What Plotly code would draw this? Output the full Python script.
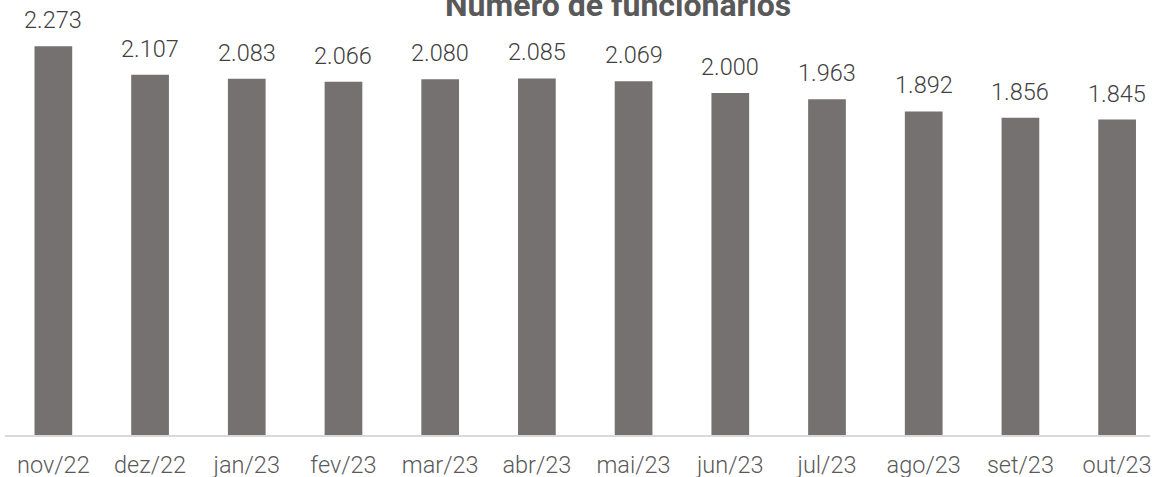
import plotly.graph_objects as go

categories = ["nov/22", "dez/22", "jan/23", "fev/23", "mar/23", "abr/23",
              "mai/23", "jun/23", "jul/23", "ago/23", "set/23", "out/23"]
values = [2273, 2107, 2083, 2066, 2080, 2085, 2069, 2000, 1963, 1892, 1856, 1845]
title_text = "Número de funcionários"

labels = [f"{v:,}".replace(",", ".") for v in values]

fig = go.Figure()
fig.add_trace(go.Bar(
    x=categories, y=values,
    marker=dict(color="#767171", line=dict(width=0)),
    width=0.39,
    hoverinfo="skip",
))
for c, v, t in zip(categories, values, labels):
    fig.add_annotation(x=c, y=v, text=t, showarrow=False, yanchor="bottom",
                       yshift=10, font=dict(family="Roboto", size=23.5, color="#404040", weight=300))

fig.add_annotation(xref="paper", yref="paper", x=(618 - 5) / 1145, y=1.0, yanchor="middle",
                   yshift=-5, text="<b>" + title_text + "</b>",
                   showarrow=False, font=dict(family="Roboto", size=32, color="#595959"))

fig.update_layout(
    width=1155, height=477,
    margin=dict(l=5, r=5, t=0, b=42, autoexpand=False),
    plot_bgcolor="white", paper_bgcolor="white",
    showlegend=False,
    xaxis=dict(range=[-0.5, 11.34], showline=True, linecolor="#d9d9d9", linewidth=2,
               showgrid=False, ticks="", ticklabelstandoff=8, automargin=False,
               tickfont=dict(family="Roboto", size=23.5, color="#595959", weight=300)),
    yaxis=dict(range=[0, 2544], visible=False, showgrid=False, automargin=False),
)
fig.write_html("out.html", config={"displayModeBar": False},
               post_script="document.body.style.margin='0';document.body.style.overflow='hidden';")
